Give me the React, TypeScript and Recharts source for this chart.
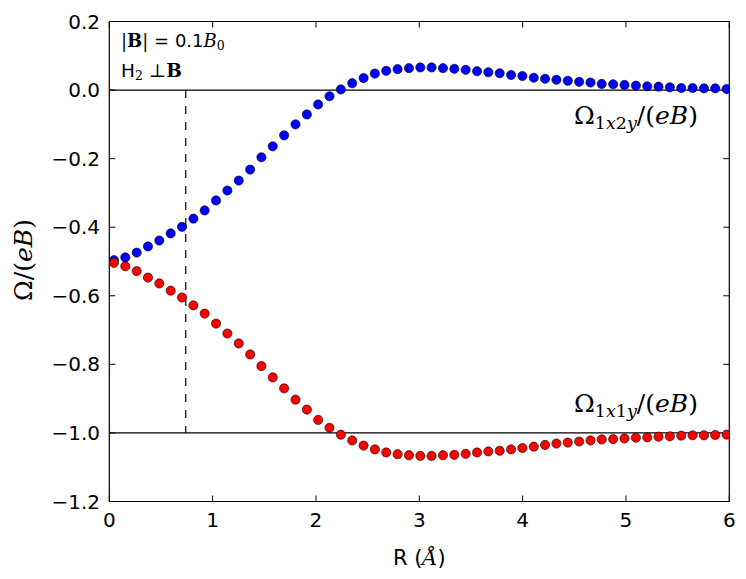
import React from "react";
import {
  ComposedChart,
  Scatter,
  XAxis,
  YAxis,
  ReferenceLine,
} from "recharts";

// R values (Å)
const R_VALUES = [
  0.045, 0.155, 0.265, 0.374, 0.484, 0.594, 0.704, 0.814, 0.923, 1.033,
  1.143, 1.253, 1.363, 1.472, 1.582, 1.692, 1.802, 1.912, 2.021, 2.131,
  2.241, 2.351, 2.461, 2.57, 2.68, 2.79, 2.9, 3.01, 3.119, 3.229,
  3.339, 3.449, 3.559, 3.668, 3.778, 3.888, 3.998, 4.108, 4.217, 4.327,
  4.437, 4.547, 4.657, 4.766, 4.876, 4.986, 5.096, 5.206, 5.315, 5.425,
  5.535, 5.645, 5.755, 5.864, 5.974,
];

// Ω_1x2y / (eB)  (blue)
const OMEGA_1X2Y = [
  -0.496, -0.488, -0.474, -0.456, -0.439, -0.418, -0.399, -0.375, -0.351, -0.322,
  -0.293, -0.264, -0.232, -0.196, -0.164, -0.132, -0.1, -0.071, -0.042, -0.018,
  0.002, 0.02, 0.035, 0.048, 0.056, 0.061, 0.064, 0.066, 0.066, 0.064,
  0.062, 0.059, 0.055, 0.052, 0.049, 0.044, 0.041, 0.036, 0.033, 0.03,
  0.027, 0.024, 0.022, 0.018, 0.017, 0.015, 0.013, 0.011, 0.01, 0.008,
  0.006, 0.006, 0.005, 0.005, 0.003,
];

// Ω_1x1y / (eB)  (red)
const OMEGA_1X1Y = [
  -0.504, -0.514, -0.528, -0.547, -0.564, -0.585, -0.605, -0.628, -0.652, -0.681,
  -0.71, -0.739, -0.771, -0.805, -0.838, -0.87, -0.903, -0.932, -0.962, -0.985,
  -1.005, -1.022, -1.037, -1.048, -1.057, -1.062, -1.065, -1.067, -1.067, -1.065,
  -1.064, -1.061, -1.057, -1.054, -1.052, -1.048, -1.044, -1.04, -1.035, -1.031,
  -1.028, -1.025, -1.022, -1.019, -1.018, -1.016, -1.014, -1.013, -1.011, -1.01,
  -1.008, -1.007, -1.007, -1.006, -1.005,
];

const X_TICKS = [0, 1, 2, 3, 4, 5, 6];
const Y_TICKS = [-1.2, -1.0, -0.8, -0.6, -0.4, -0.2, 0.0, 0.2];
const BOND_LENGTH = 0.74;
const REF_LEVELS = [0, -1];

const blueData = R_VALUES.map((r, i) => ({ r, v: OMEGA_1X2Y[i] }));
const redData = R_VALUES.map((r, i) => ({ r, v: OMEGA_1X1Y[i] }));

const W = 746;
const H = 579;

const fmtY = (v: number) => {
  const s = Math.abs(v).toFixed(1);
  return v < -1e-9 ? "\u2212" + s : s;
};

const dot = (fill: string) => (props: any) => (
  <circle cx={props.cx} cy={props.cy} r={4.6} fill={fill} stroke="#000" strokeWidth={0.6} />
);

const tickStyle = { fontFamily: "DejaVu Sans", fontSize: 20, fill: "#000" };
const serif = "DejaVu Serif";

export default function App() {
  return (
    <div style={{ position: "absolute", left: 0, top: 0, width: W, height: H, background: "#fff" }}>
      <ComposedChart
        width={W}
        height={H}
        margin={{ top: 11.5, right: 6.7, bottom: 47.5, left: 49.3 }}
      >
        <XAxis
          xAxisId="b"
          dataKey="r"
          type="number"
          domain={[0, 6]}
          ticks={X_TICKS}
          allowDataOverflow
          height={30}
          tickSize={-6}
          tickMargin={17.3}
          axisLine={{ stroke: "#000", strokeWidth: 1.2 }}
          tickLine={{ stroke: "#000", strokeWidth: 1 }}
          tick={tickStyle}
        />
        <XAxis
          xAxisId="t"
          orientation="top"
          dataKey="r"
          type="number"
          domain={[0, 6]}
          ticks={X_TICKS}
          allowDataOverflow
          height={10}
          tickSize={-6}
          tickFormatter={() => ""}
          axisLine={{ stroke: "#000", strokeWidth: 1.2 }}
          tickLine={{ stroke: "#000", strokeWidth: 1 }}
        />
        <YAxis
          yAxisId="l"
          dataKey="v"
          type="number"
          domain={[-1.2, 0.2]}
          ticks={Y_TICKS}
          allowDataOverflow
          width={60}
          tickSize={-6}
          tickMargin={15.3}
          tickFormatter={fmtY}
          axisLine={{ stroke: "#000", strokeWidth: 1.2 }}
          tickLine={{ stroke: "#000", strokeWidth: 1 }}
          tick={tickStyle}
        />
        <YAxis
          yAxisId="r"
          orientation="right"
          dataKey="v"
          type="number"
          domain={[-1.2, 0.2]}
          ticks={Y_TICKS}
          allowDataOverflow
          width={10}
          tickSize={-6}
          tickFormatter={() => ""}
          axisLine={{ stroke: "#000", strokeWidth: 1.2 }}
          tickLine={{ stroke: "#000", strokeWidth: 1 }}
        />
        {REF_LEVELS.map((y) => (
          <ReferenceLine key={y} xAxisId="b" yAxisId="l" y={y} stroke="#000" strokeWidth={1.2} />
        ))}
        <ReferenceLine
          xAxisId="b"
          yAxisId="l"
          segment={[
            { x: BOND_LENGTH, y: 0 },
            { x: BOND_LENGTH, y: -1 },
          ]}
          stroke="#000"
          strokeWidth={1.2}
          strokeDasharray="8 8"
        />
        <Scatter
          xAxisId="b"
          yAxisId="l"
          data={blueData}
          dataKey="v"
          shape={dot("#0000ff")}
          isAnimationActive={false}
        />
        <Scatter
          xAxisId="b"
          yAxisId="l"
          data={redData}
          dataKey="v"
          shape={dot("#ff0000")}
          isAnimationActive={false}
        />
      </ComposedChart>
      <svg
        width={W}
        height={H}
        style={{ position: "absolute", left: 0, top: 0, pointerEvents: "none" }}
      >
        {/* annotations */}
        <text x={121} y={46.7} fontSize={18} fill="#000">
          <tspan fontFamily={serif}>|</tspan>
          <tspan fontFamily={serif} fontWeight="bold">B</tspan>
          <tspan fontFamily={serif}>|</tspan>
          <tspan fontFamily="DejaVu Sans"> = 0.1</tspan>
          <tspan fontFamily={serif} fontStyle="italic">B</tspan>
          <tspan fontFamily={serif} fontSize={12.5} dy={3}>0</tspan>
        </text>
        <text x={121} y={76.7} fontSize={18.5} fill="#000">
          <tspan fontFamily="DejaVu Sans">H</tspan>
          <tspan fontFamily={serif} fontSize={12.5} dy={3}>2</tspan>
          <tspan fontFamily={serif} dy={-3}>{"  \u22a5"}</tspan>
          <tspan fontFamily={serif} fontWeight="bold">B</tspan>
        </text>
        {/* curve labels */}
        <text
          x={574}
          y={124}
          fontSize={25}
          fill="#000"
          fontFamily={serif}
          textLength={124}
          lengthAdjust="spacing"
        >
          <tspan>Ω</tspan>
          <tspan fontSize={17.5} dy={5}>1</tspan>
          <tspan fontSize={17.5} fontStyle="italic">x</tspan>
          <tspan fontSize={17.5}>2</tspan>
          <tspan fontSize={17.5} fontStyle="italic">y</tspan>
          <tspan dy={-5}>/(</tspan>
          <tspan fontStyle="italic">eB</tspan>
          <tspan>)</tspan>
        </text>
        <text
          x={574}
          y={412}
          fontSize={25}
          fill="#000"
          fontFamily={serif}
          textLength={124}
          lengthAdjust="spacing"
        >
          <tspan>Ω</tspan>
          <tspan fontSize={17.5} dy={5}>1</tspan>
          <tspan fontSize={17.5} fontStyle="italic">x</tspan>
          <tspan fontSize={17.5}>1</tspan>
          <tspan fontSize={17.5} fontStyle="italic">y</tspan>
          <tspan dy={-5}>/(</tspan>
          <tspan fontStyle="italic">eB</tspan>
          <tspan>)</tspan>
        </text>
        {/* x axis label */}
        <text x={419.3} y={565} fontSize={21} fill="#000" textAnchor="middle" fontFamily="DejaVu Sans">
          <tspan>R (</tspan>
          <tspan fontFamily={serif} fontStyle="italic">Å</tspan>
          <tspan>)</tspan>
        </text>
        {/* y axis label */}
        <text
          x={0}
          y={0}
          transform="translate(22.5,260) rotate(-90)"
          fontSize={25}
          fill="#000"
          textAnchor="middle"
          dominantBaseline="central"
          fontFamily={serif}
        >
          <tspan>Ω/(</tspan>
          <tspan fontStyle="italic">eB</tspan>
          <tspan>)</tspan>
        </text>
      </svg>
    </div>
  );
}
